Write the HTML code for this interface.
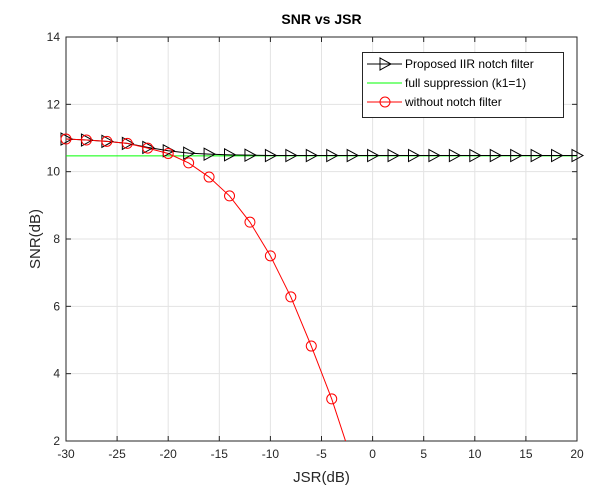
<!DOCTYPE html>
<html><head><meta charset="utf-8"><style>
body{margin:0;background:#fff;font-family:"Liberation Sans",Arial,sans-serif}
svg{display:block}
</style></head><body>
<svg width="605" height="503" id="c">
<rect width="605" height="503" fill="#fff"/>
</svg>
<script>
const xs=[-30,-28,-26,-24,-22,-20,-18,-16,-14,-12,-10,-8,-6,-4,-2,0,2,4,6,8,10,12,14,16,18,20];
const proposed=[10.97,10.94,10.9,10.84,10.72,10.62,10.55,10.52,10.5,10.49,10.48,10.48,10.48,10.48,10.48,10.48,10.48,10.48,10.48,10.48,10.48,10.48,10.48,10.48,10.48,10.48];
const withoutX=[-30,-28,-26,-24,-22,-20,-18,-16,-14,-12,-10,-8,-6,-4,-2];
const without=[10.97,10.94,10.9,10.84,10.7,10.54,10.26,9.84,9.28,8.5,7.5,6.28,4.82,3.25,1.4];
const fullSupp=10.47;
const xTicks=[-30,-25,-20,-15,-10,-5,0,5,10,15,20];
const yTicks=[2,4,6,8,10,12,14];
const L=66,R=577,T=37,B=441;
const X=v=>L+(v+30)/50*(R-L), Y=v=>B-(v-2)/12*(B-T);
const s=document.getElementById('c'),NS='http://www.w3.org/2000/svg';
function mk(t,a,p){const e=document.createElementNS(NS,t);for(const k in a)e.setAttribute(k,a[k]);(p||s).appendChild(e);return e;}
mk('rect',{x:L,y:T,width:R-L,height:B-T,fill:'#fff'});
const grid=mk('g',{stroke:'#e3e3e3','stroke-width':1});


xTicks.forEach(v=>mk('line',{x1:X(v),x2:X(v),y1:T,y2:B},grid));
yTicks.forEach(v=>mk('line',{x1:L,x2:R,y1:Y(v),y2:Y(v)},grid));
const ax=mk('g',{stroke:'#262626','stroke-width':1,fill:'none'});
mk('rect',{x:L,y:T,width:R-L,height:B-T},ax);
xTicks.forEach(v=>{mk('line',{x1:X(v),x2:X(v),y1:B,y2:B-5},ax);mk('line',{x1:X(v),x2:X(v),y1:T,y2:T+5},ax);
const t=mk('text',{x:X(v),y:B+17,'text-anchor':'middle','font-size':12,fill:'#262626'});t.textContent=v;

});
yTicks.forEach(v=>{mk('line',{x1:L,x2:L+5,y1:Y(v),y2:Y(v)},ax);mk('line',{x1:R,x2:R-5,y1:Y(v),y2:Y(v)},ax);
const t=mk('text',{x:L-6,y:Y(v)+4,'text-anchor':'end','font-size':12,fill:'#262626'});t.textContent=v;

});
const clip=mk('clipPath',{id:'cp'});mk('rect',{x:L,y:T,width:R-L,height:B-T},clip);
const pl=mk('g',{'clip-path':'url(#cp)'});
const mg=mk('g',{});
const g1=mk('line',{x1:L,x2:R,y1:Y(fullSupp),y2:Y(fullSupp),stroke:'#00ff00','stroke-width':1},pl);


const p1=mk('polyline',{points:xs.map((x,i)=>X(x)+','+Y(proposed[i])).join(' '),fill:'none',stroke:'#000','stroke-width':1},pl);


xs.forEach((x,i)=>{const cx=X(x),cy=Y(proposed[i]);const m=mk('polygon',{points:`${cx-5},${cy-6} ${cx+6},${cy} ${cx-5},${cy+6}`,fill:'none',stroke:'#000','stroke-width':1},mg);

});
const p2=mk('polyline',{points:withoutX.map((x,i)=>X(x)+','+Y(without[i])).join(' '),fill:'none',stroke:'#ff0000','stroke-width':1},pl);


withoutX.forEach((x,i)=>{if(without[i]<2)return;const m=mk('circle',{cx:X(x),cy:Y(without[i]),r:5,fill:'none',stroke:'#ff0000','stroke-width':1},mg);

});
const ti=mk('text',{x:(L+R)/2,y:24,'text-anchor':'middle','font-size':14,'font-weight':'bold',fill:'#000'});ti.textContent='SNR vs JSR';


const xl=mk('text',{x:(L+R)/2,y:482,'text-anchor':'middle','font-size':15,fill:'#262626'});xl.textContent='JSR(dB)';


const yl=mk('text',{x:0,y:0,'text-anchor':'middle','font-size':15,fill:'#262626',transform:`translate(40,${(T+B)/2}) rotate(-90)`});yl.textContent='SNR(dB)';


const lg=mk('g',{});


mk('rect',{x:362.5,y:52.5,width:201,height:65,fill:'#fff',stroke:'#262626','stroke-width':1},lg);
const items=[['Proposed IIR notch filter','#000','tri'],['full suppression (k1=1)','#00ff00',''],['without notch filter','#ff0000','circ']];
items.forEach((it,i)=>{const y=64+i*19;
const e=mk('g',{},lg);


mk('line',{x1:367,x2:402,y1:y,y2:y,stroke:it[1],'stroke-width':1},e);
if(it[2]=='tri')mk('polygon',{points:`380,${y-6} 391,${y} 380,${y+6}`,fill:'none',stroke:'#000'},e);
if(it[2]=='circ')mk('circle',{cx:385,cy:y,r:5,fill:'none',stroke:'#ff0000'},e);
const t=mk('text',{x:405,y:y+4,'font-size':12,fill:'#000'},e);t.textContent=it[0];});
</script>
</body></html>
